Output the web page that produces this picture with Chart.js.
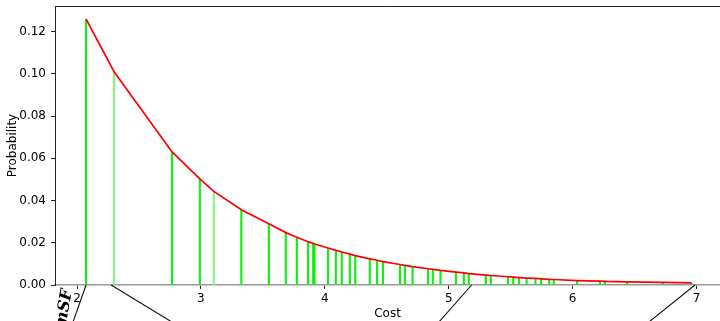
<!DOCTYPE html>
<html>
<head>
<meta charset="utf-8">
<script src="https://cdn.jsdelivr.net/npm/chart.js@4"></script>
<style>
  html, body { margin: 0; padding: 0; background: #fff; }
  #wrap { width: 720px; height: 321px; position: relative; }
</style>
</head>
<body>
<div id="wrap"><canvas id="c" width="720" height="321"></canvas></div>
<script>
const costs = [2.073, 2.299, 2.767, 2.991, 3.104, 3.326, 3.548, 3.685, 3.774, 3.865, 3.906, 3.917,
  4.026, 4.089, 4.137, 4.202, 4.246, 4.363, 4.422, 4.469, 4.607, 4.646, 4.708, 4.834, 4.872, 4.934,
  5.058, 5.122, 5.162, 5.300, 5.340, 5.478, 5.521, 5.567, 5.629, 5.700, 5.746, 5.811, 5.849,
  6.037, 6.221, 6.261, 6.441, 6.727, 6.960];
const probabilities = [0.1259, 0.1010, 0.0630, 0.0502, 0.0443, 0.0356, 0.0290, 0.0248, 0.0226, 0.0205, 0.0197, 0.0194,
  0.0175, 0.0164, 0.0156, 0.0146, 0.0139, 0.0124, 0.0117, 0.0111, 0.0097, 0.0093, 0.0087, 0.0077, 0.0074, 0.0069,
  0.0061, 0.0057, 0.0054, 0.0047, 0.0045, 0.0039, 0.0037, 0.0035, 0.0033, 0.0031, 0.0029, 0.0027, 0.0026,
  0.0021, 0.0018, 0.0017, 0.0015, 0.0012, 0.0010];
const lightStems = [1, 4];
const xTicks = [2, 3, 4, 5, 6, 7];
const yTicks = [0, 0.02, 0.04, 0.06, 0.08, 0.10, 0.12];
// connector lines (data units): [x at axis, x at lower edge]
const connectors = [[2.073, 1.968], [2.275, 2.762], [5.185, 4.923], [6.988, 6.619]];
const connectorBottom = -0.0174;

const pts = costs.map((c, i) => ({ x: c, y: probabilities[i] }));
const stemColors = costs.map((c, i) => lightStems.includes(i) ? '#86f586' : '#14ee14');

const extras = {
  id: 'extras',
  afterDraw(chart) {
    const { ctx, chartArea: a, scales: { x, y } } = chart;
    ctx.save();
    // top spine
    ctx.strokeStyle = '#222';
    ctx.lineWidth = 1;
    ctx.beginPath();
    ctx.moveTo(a.left, Math.round(a.top) + 0.5);
    ctx.lineTo(chart.width, Math.round(a.top) + 0.5);
    ctx.stroke();
    // connector lines
    ctx.strokeStyle = '#111';
    ctx.lineWidth = 1.1;
    connectors.forEach(([x0, x1]) => {
      ctx.beginPath();
      ctx.moveTo(x.getPixelForValue(x0), y.getPixelForValue(0));
      ctx.lineTo(x.getPixelForValue(x1), y.getPixelForValue(connectorBottom));
      ctx.stroke();
    });
    // clipped text
    ctx.fillStyle = '#000';
    ctx.font = 'italic bold 16px "DejaVu Serif"';
    ctx.translate(a.left + 17, a.bottom + 5);
    ctx.rotate(-80 * Math.PI / 180);
    ctx.textAlign = 'right';
    ctx.textBaseline = 'alphabetic';
    ctx.fillText('mSF', 0, 0);
    ctx.restore();
  }
};

Chart.defaults.font.family = '"DejaVu Sans", sans-serif';
Chart.defaults.color = '#000';

new Chart(document.getElementById('c'), {
  type: 'bar',
  data: {
    datasets: [
      {
        type: 'line',
        data: pts,
        borderColor: '#ff0000',
        borderWidth: 1.7,
        pointRadius: 0,
        tension: 0,
        fill: false,
        order: 0
      },
      {
        type: 'bar',
        data: pts,
        backgroundColor: stemColors,
        borderWidth: 0,
        barThickness: 1.5,
        order: 1
      }
    ]
  },
  options: {
    responsive: false,
    animation: false,
    events: [],
    layout: { padding: { top: 6, right: 0, left: 0, bottom: 0 } },
    plugins: { legend: { display: false }, tooltip: { enabled: false } },
    scales: {
      x: {
        type: 'linear',
        min: 1.822,
        max: 7.19,
        offset: false,
        afterFit: s => { s.height = 36; s.paddingLeft = 0; s.paddingRight = 0; },
        afterBuildTicks: s => { s.ticks = xTicks.map(v => ({ value: v })); },
        ticks: { font: { size: 12 }, padding: 3, maxRotation: 0, callback: v => String(v) },
        grid: { drawOnChartArea: false, offset: false, tickLength: 4, tickColor: '#222', tickWidth: 1 },
        border: { color: '#999', width: 1.5 },
        title: { display: true, text: 'Cost', font: { size: 12 }, padding: { top: 0, bottom: 0 } }
      },
      y: {
        min: 0,
        max: 0.1321,
        afterFit: s => { s.width = 55; s.paddingTop = 0; s.paddingBottom = 0; },
        afterBuildTicks: s => { s.ticks = yTicks.map(v => ({ value: v })); },
        ticks: { font: { size: 12 }, padding: 5, callback: v => v.toFixed(2) },
        grid: { drawOnChartArea: false, offset: false, tickLength: 4, tickColor: '#222', tickWidth: 1 },
        border: { color: '#222', width: 1 },
        title: { display: true, text: 'Probability', font: { size: 12 }, padding: { top: 6, bottom: 0 } }
      }
    }
  },
  plugins: [extras]
});
</script>
</body>
</html>
